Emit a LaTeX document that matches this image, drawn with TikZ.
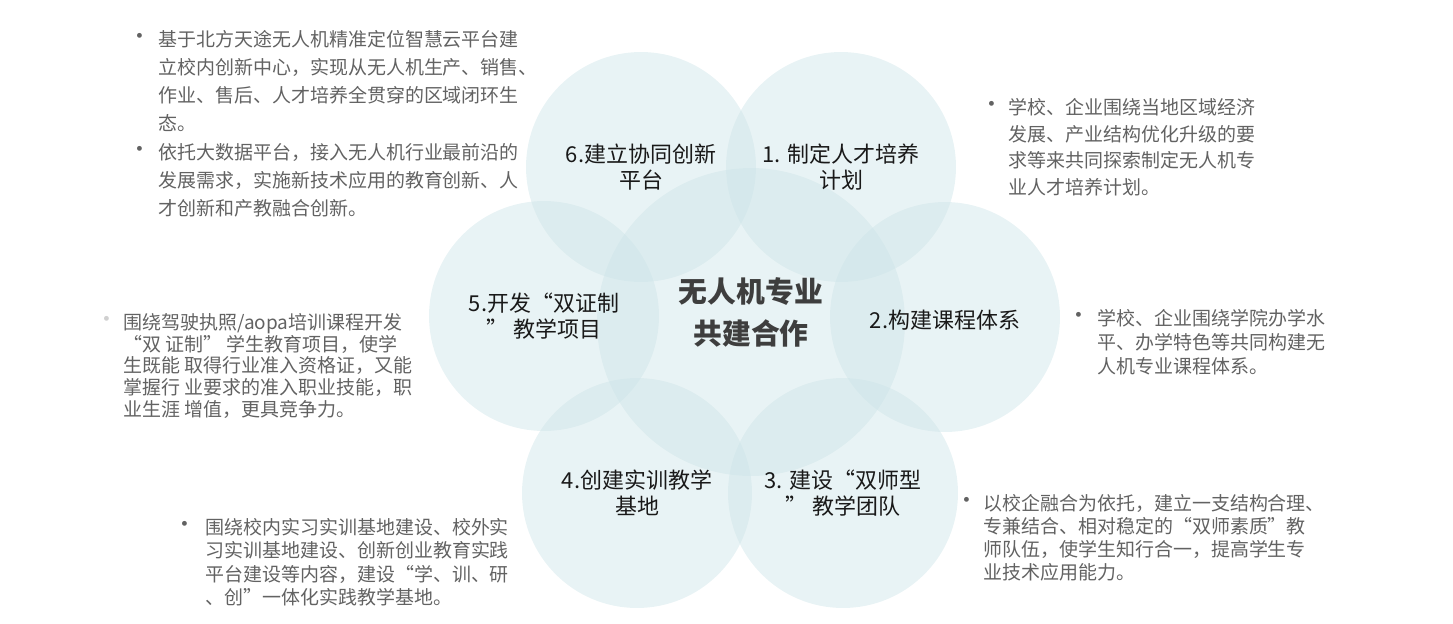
\documentclass[tikz,border=0pt]{standalone}
\usepackage{fontspec}
\setmainfont{Noto Sans CJK SC}
\usepackage{tikz}
\usepackage{xcolor}
\definecolor{petalfill}{RGB}{205,228,232}
\definecolor{notegray}{RGB}{98,98,98}
\definecolor{labelink}{RGB}{25,25,25}
\definecolor{hubink}{RGB}{62,62,62}

\begin{document}
\begin{tikzpicture}[x=0.02cm, y=-0.02cm, line cap=round, line join=round,
  petal/.style={circle, fill=petalfill, fill opacity=0.45, draw=none, minimum size=4.6cm, inner sep=0pt},
  hub/.style={petal, minimum size=6.16cm},
  plabel/.style={align=center, text=labelink, font=\fontsize{12.5pt}{14.7pt}\selectfont},
  hublabel/.style={align=center, text=hubink, font=\fontsize{16.4pt}{23.8pt}\selectfont\bfseries},
  note/.style={align=left, text=notegray, inner sep=0pt, anchor=north west},
  bulletmark/.style={text=notegray, font=\fontsize{13pt}{14pt}\selectfont, inner sep=0pt}]
\useasboundingbox (0,0) rectangle (1453,623);
% six petals round the hub
\node[hub] (hub) at (751,322) {};
\node[petal] (c1) at (841,167) {};
\node[petal] (c2) at (945,317) {};
\node[petal] (c3) at (843,493) {};
\node[petal] (c4) at (637,493) {};
\node[petal] (c5) at (544,316) {};
\node[petal] (c6) at (641,167) {};
\node[hublabel] (hubtxt) at ([yshift=0.2cm]hub.center) {无人机专业\\共建合作};
\node[plabel] (t1) at (c1) {1. 制定人才培养\\计划};
\node[plabel] (t2) at ([yshift=-0.06cm]c2.center) {2.构建课程体系};
\node[plabel] (t3) at (c3) {3. 建设“双师型\\” 教学团队};
\node[plabel] (t4) at (c4) {4.创建实训教学\\基地};
\node[plabel] (t5) at (c5) {5.开发“双证制\\” 教学项目};
\node[plabel] (t6) at (c6) {6.建立协同创新\\平台};
% notes
\node[bulletmark] (b6a) at (140,39) {•};
\node[note, font=\fontsize{10.8pt}{15.9pt}\selectfont] (n6a) at (158,30)
  {基于北方天途无人机精准定位智慧云平台建\\立校内创新中心，实现从无人机生产、销售、\\作业、售后、人才培养全贯穿的区域闭环生\\态。};
\node[bulletmark] (b6b) at (140,152) {•};
\node[note, font=\fontsize{10.8pt}{15.9pt}\selectfont] (n6b) at (158,143)
  {依托大数据平台，接入无人机行业最前沿的\\发展需求，实施新技术应用的教育创新、人\\才创新和产教融合创新。};
\node[bulletmark] (b1) at (992,107) {•};
\node[note, font=\fontsize{10.8pt}{15.2pt}\selectfont] (n1) at (1008,98)
  {学校、企业围绕当地区域经济\\发展、产业结构优化升级的要\\求等来共同探索制定无人机专\\业人才培养计划。};
\node[bulletmark] (b2) at (1079,318) {•};
\node[note, font=\fontsize{10.8pt}{13.8pt}\selectfont] (n2) at (1097,309)
  {学校、企业围绕学院办学水\\平、办学特色等共同构建无\\人机专业课程体系。};
\node[bulletmark, text=notegray!30] (b5) at (107,322) {•};
\node[note, font=\fontsize{10.8pt}{12.4pt}\selectfont] (n5) at (123,313)
  {围绕驾驶执照/aopa培训课程开发\\“双 证制” 学生教育项目，使学\\生既能 取得行业准入资格证，又能\\掌握行 业要求的准入职业技能，职\\业生涯 增值，更具竞争力。};
\node[bulletmark] (b4) at (185,527) {•};
\node[note, font=\fontsize{10.8pt}{13.3pt}\selectfont] (n4) at (205,518)
  {围绕校内实习实训基地建设、校外实\\习实训基地建设、创新创业教育实践\\平台建设等内容，建设“学、训、研\\、创”一体化实践教学基地。};
\node[bulletmark] (b3) at (967,503) {•};
\node[note, font=\fontsize{10.8pt}{13.1pt}\selectfont] (n3) at (983,494)
  {以校企融合为依托，建立一支结构合理、\\专兼结合、相对稳定的“双师素质”教\\师队伍，使学生知行合一，提高学生专\\业技术应用能力。};
\end{tikzpicture}
\end{document}
